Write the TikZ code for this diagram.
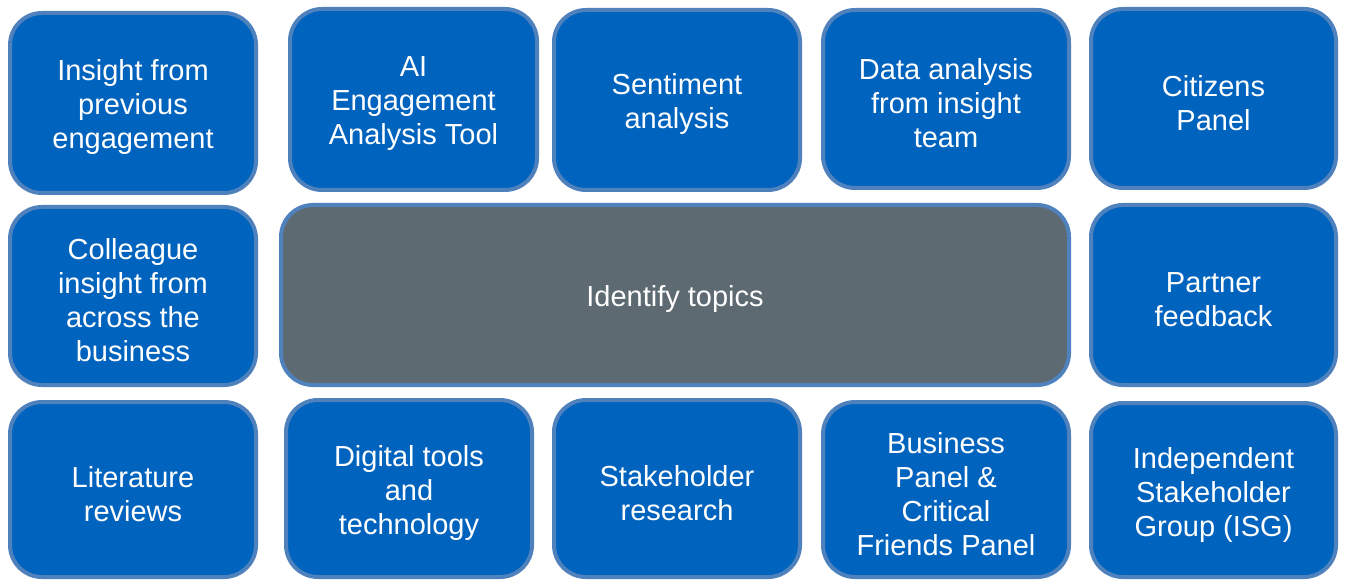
\documentclass[tikz,border=0pt]{standalone}
\usepackage{fontspec}
\setmainfont{Liberation Sans}
\definecolor{boxblue}{RGB}{0,99,190}
\definecolor{edgeblue}{RGB}{79,129,189}
\definecolor{centergray}{RGB}{94,106,114}
\begin{document}
\begin{tikzpicture}[x=1pt,y=-1pt,
  box/.style={draw=edgeblue, line width=4pt, fill=boxblue, rounded corners=32pt, inner sep=0pt},
  boxtext/.style={text=white, align=center, inner sep=0pt, yshift=-4.5pt,
    font=\fontsize{29}{34}\selectfont},
]
\useasboundingbox (0,0) rectangle (1346,580);
\newcommand{\bx}[6]{% name, x1,y1,x2,y2, text
  \node[box, minimum width={#4-#2-4}, minimum height={#5-#3-4}] (#1) at ({(#2+#4)/2},{(#3+#5)/2}) {};
  \node[boxtext] (#1-text) at (#1.center) {#6};}
\bx{insight}{8}{11}{258}{195}{Insight from\\previous\\engagement}
\bx{ai}{288}{7}{539}{192}{AI\\Engagement\\Analysis Tool}
\bx{sentiment}{552}{8}{802}{192}{Sentiment\\analysis}
\bx{data}{821}{8}{1071}{190}{Data analysis\\from insight\\team}
\bx{citizens}{1089}{7}{1338}{190}{Citizens\\Panel}
\bx{colleague}{8}{205}{258}{387}{Colleague\\insight from\\across the\\business}
\node[box, fill=centergray, minimum width=788, minimum height=180] (identify) at (675,295) {};
\node[boxtext] (identify-text) at (identify.center) {Identify topics};
\bx{partner}{1089}{203}{1338}{387}{Partner\\feedback}
\bx{literature}{8}{400}{258}{579}{Literature\\reviews}
\bx{digital}{284}{398}{534}{579}{Digital tools\\and\\technology}
\bx{stakeholder}{552}{398}{802}{579}{Stakeholder\\research}
\bx{business}{821}{400}{1071}{579}{Business\\Panel \&\\Critical\\Friends Panel}
\bx{isg}{1089}{401}{1338}{579}{Independent\\Stakeholder\\Group (ISG)}
\end{tikzpicture}
\end{document}
